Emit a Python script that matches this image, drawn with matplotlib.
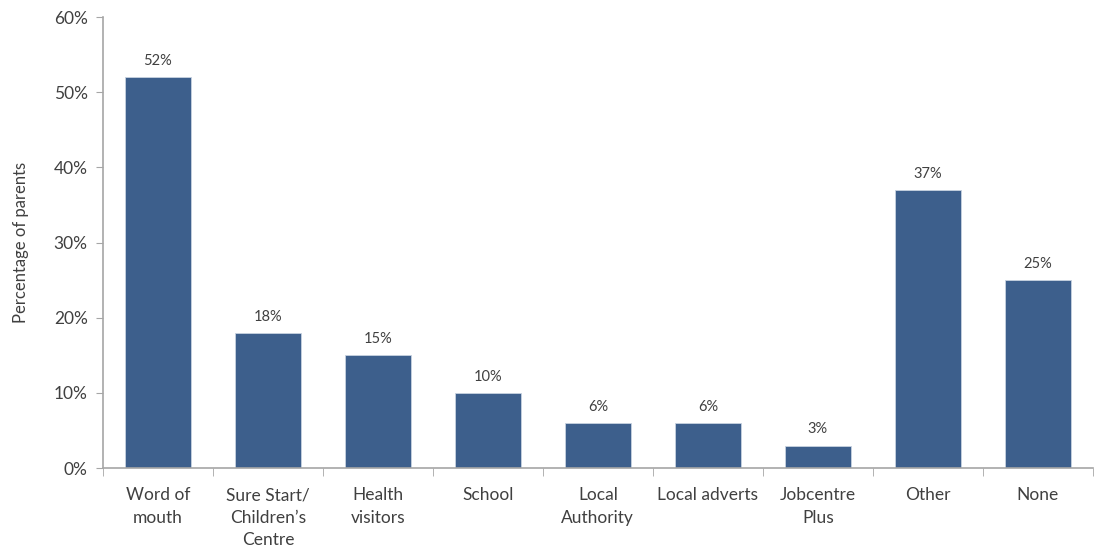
import matplotlib.pyplot as plt
import numpy as np

plt.rcParams['font.family'] = ['Lato', 'DejaVu Sans']

categories = ["Word of\nmouth", "Sure Start/\nChildren\u2019s\nCentre", "Health\nvisitors",
              "School", "Local\nAuthority", "Local adverts", "Jobcentre\nPlus", "Other", "None"]
values = [52, 18, 15, 10, 6, 6, 3, 37, 25]
yticks = [0, 10, 20, 30, 40, 50, 60]

bar_col = '#3d5f8c'
txt_col = '#404040'
axis_col = '#a6a6a6'

fig = plt.figure(figsize=(10.95, 5.5), dpi=100)
ax = fig.add_axes([0.094, 0.149, 0.904, 0.82])

x = np.arange(len(categories))
bars = ax.bar(x, values, width=0.6, color=bar_col, edgecolor='#c8d2e0', linewidth=0.6)

for xi, v in zip(x, values):
    ax.text(xi, v + 1.2, f"{v}%", ha='center', va='bottom', fontsize=10.5, color=txt_col)

ax.set_xlim(-0.5, len(categories) - 0.5)
ax.set_ylim(0, 60)
ax.set_yticks(yticks)
ax.set_yticklabels([f"{t}%" for t in yticks], fontsize=12.5, color=txt_col)

ax.set_xticks(x)
ax.set_xticklabels(categories, fontsize=12.5, color=txt_col, linespacing=1.5, va='top')
ax.tick_params(axis='x', length=0, pad=14)
# category boundary ticks
ax.set_xticks(np.arange(len(categories) + 1) - 0.5, minor=True)
ax.tick_params(axis='x', which='minor', length=6, color=axis_col, direction='out')
ax.tick_params(axis='y', length=5, color=axis_col, direction='out', pad=6)

ax.set_ylabel("Percentage of parents", fontsize=12, color=txt_col, labelpad=18)

for s in ['top', 'right']:
    ax.spines[s].set_visible(False)
for s in ['left', 'bottom']:
    ax.spines[s].set_color(axis_col)
    ax.spines[s].set_linewidth(1.2)

fig.savefig("out.png", dpi=100)
